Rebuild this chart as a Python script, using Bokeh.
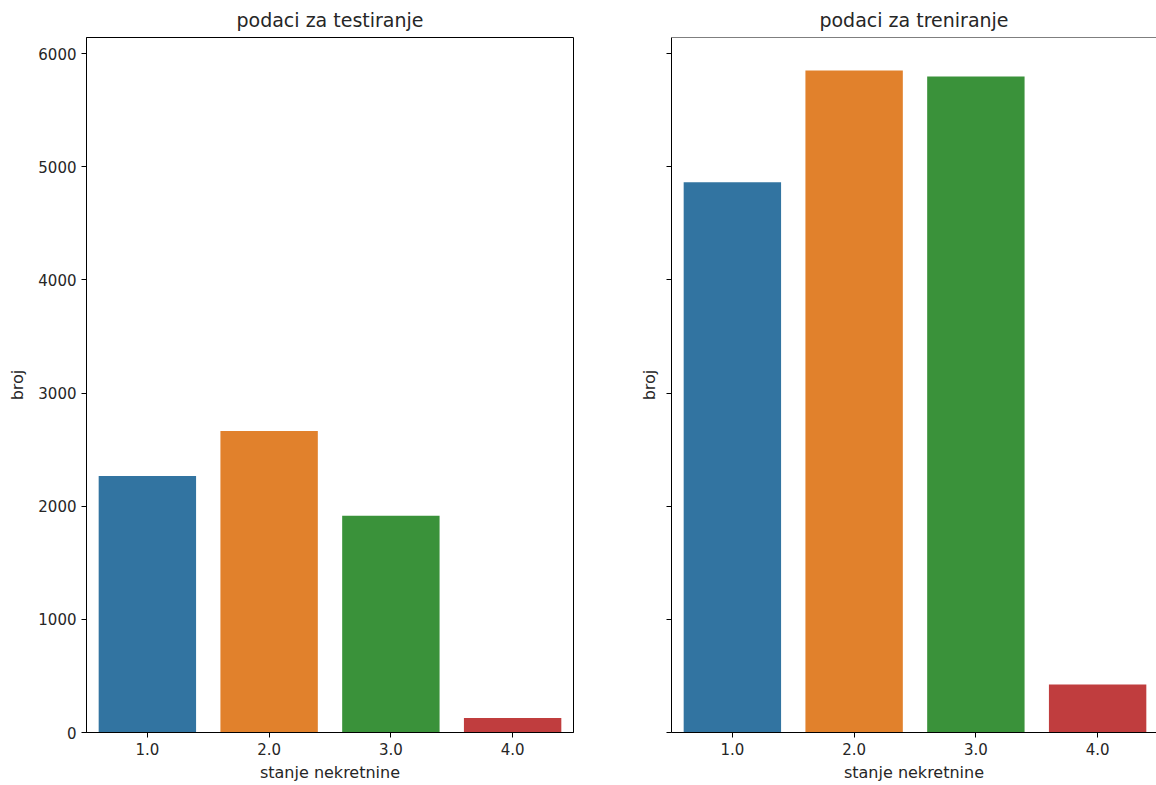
from bokeh.plotting import figure
from bokeh.layouts import row
from bokeh.models import Range1d, Span, FixedTicker
from bokeh.embed import file_html
from bokeh.resources import INLINE

categories = ["1.0", "2.0", "3.0", "4.0"]
test_counts = [2268, 2665, 1915, 128]
train_counts = [4863, 5852, 5799, 424]
colors = ["#3274a1", "#e1812c", "#3a923a", "#c03d3e"]
y_ticks = [0, 1000, 2000, 3000, 4000, 5000, 6000]

FONT = "DejaVu Sans"
TICK_PX = "15px"
LABEL_PX = "16px"
TITLE_PX = "19px"
Y_MAX = 6143


def make_panel(title, counts, width, border_left, border_right, x_end, show_labels):
    xs = list(range(len(categories)))
    p = figure(width=width, height=785, output_backend="svg", toolbar_location=None,
               x_range=Range1d(-0.5, x_end), y_range=Range1d(0, Y_MAX),
               min_border_left=border_left, min_border_right=border_right,
               min_border_top=36, min_border_bottom=53, title=title)
    p.vbar(x=xs, top=counts, width=0.8, bottom=0, fill_color=colors, line_color=None)
    p.xgrid.visible = False
    p.ygrid.visible = False
    p.title.align = "center"
    p.title.text_font = FONT
    p.title.text_font_size = TITLE_PX
    p.title.text_font_style = "normal"
    p.title.text_color = "#262626"
    p.title.standoff = 13
    for ax in (p.xaxis[0], p.yaxis[0]):
        ax.axis_line_color = "black"
        ax.major_tick_line_color = "black"
        ax.minor_tick_line_color = None
        ax.major_tick_in = 0
        ax.major_tick_out = 5
        ax.major_label_text_font = FONT
        ax.major_label_text_font_size = TICK_PX
        ax.major_label_text_color = "#262626"
        ax.axis_label_text_font = FONT
        ax.axis_label_text_font_size = LABEL_PX
        ax.axis_label_text_font_style = "normal"
        ax.axis_label_text_color = "#262626"
    p.xaxis.ticker = FixedTicker(ticks=xs)
    p.xaxis.major_label_overrides = {i: c for i, c in enumerate(categories)}
    p.xaxis.axis_label = "stanje nekretnine"
    p.xaxis.axis_label_standoff = 5
    p.yaxis.ticker = FixedTicker(ticks=y_ticks)
    p.yaxis.axis_label = "broj"
    p.yaxis.axis_label_standoff = 8
    if not show_labels:
        p.yaxis.major_label_text_color = None
    p.outline_line_color = "black"
    return p


p1 = make_panel("podaci za testiranje", test_counts, 620, 86, 47, 3.5, True)
p2 = make_panel("podaci za treniranje", train_counts, 536, 51, 0, -0.5 + 4 * 485 / 487, False)
p2.outline_line_color = None
p2.add_layout(Span(location=Y_MAX, dimension="width", line_color="black", line_width=1))

layout = row(p1, p2)
open("out.html", "w").write(file_html(layout, INLINE))
